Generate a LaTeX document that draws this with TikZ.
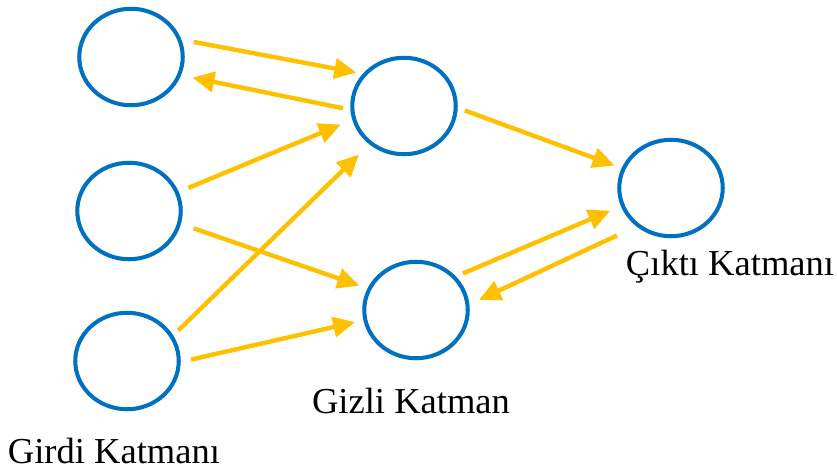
\documentclass[tikz,border=0pt]{standalone}
\usepackage{fontspec}
\setmainfont{Liberation Serif}
\usetikzlibrary{shapes.geometric,arrows.meta}
\definecolor{nblue}{HTML}{0070C0}
\definecolor{nyellow}{HTML}{FFC000}
\begin{document}
\begin{tikzpicture}[x=0.02cm,y=-0.02cm,
 neuron/.style={shape=ellipse, draw=nblue, line width=2.3pt, minimum width=2.07cm, minimum height=1.93cm, inner sep=0pt},
 link/.style={draw=nyellow, line width=2.5pt, -{Triangle[length=0.44cm,width=0.40cm]}},
 lbl/.style={anchor=base, font=\fontsize{20.8}{25}\selectfont}]

 \useasboundingbox (0,0) rectangle (837,470);

 % girdi katmani
 \node[neuron] (g1) at (131,57) {};
 \node[neuron] (g2) at (129,211) {};
 \node[neuron] (g3) at (127,361) {};
 % gizli katman
 \node[neuron] (h1) at (404,106) {};
 \node[neuron] (h2) at (416,310) {};
 % cikti katmani
 \node[neuron] (c1) at (671,188) {};

 % baglantilar
 \draw[link, shorten <=2.5mm, shorten >=1.3mm] (g1.19) -- (h1.142);
 \draw[link, shorten <=1.5mm, shorten >=2.3mm] (h1.184) -- (g1.340);
 \draw[link, shorten <=2.1mm, shorten >=2.5mm] (g2.21) -- (h1.195);
 \draw[link, shorten <=1.4mm, shorten >=2.9mm] (g3.29) -- (h1.228);
 \draw[link, shorten <=2.7mm, shorten >=1.7mm] (g2.346) -- (h2.156);
 \draw[link, shorten <=2.1mm, shorten >=1.7mm] (g3.359) -- (h2.191);
 \draw[link, shorten <=1.5mm, shorten >=1.5mm] (h1.358) -- (c1.158);
 \draw[link, shorten <=1.5mm, shorten >=2.3mm] (h2.40) -- (c1.200);
 \draw[link, shorten <=4.3mm, shorten >=2.1mm] (c1.228) -- (h2.6);

 % etiketler
 \node[lbl] (tg) at (114,463) {Girdi Katmanı};
 \node[lbl] (th) at (411,413) {Gizli Katman};
 \node[lbl] (tc) at (730,275) {Çıktı Katmanı};
\end{tikzpicture}
\end{document}
